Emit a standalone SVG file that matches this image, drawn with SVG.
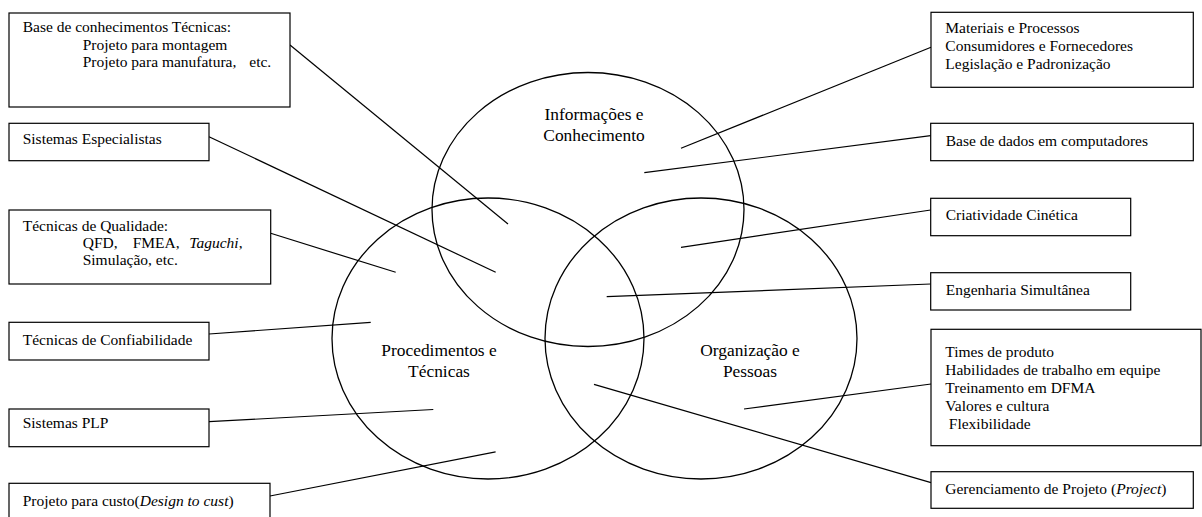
<svg xmlns="http://www.w3.org/2000/svg" width="1202" height="517" viewBox="0 0 1202 517" font-family="'Liberation Serif', 'DejaVu Serif', serif">
  <style>
    .box { fill: #ffffff; stroke: #000000; stroke-width: 1.2; }
    .circle { fill: none; stroke: #000000; stroke-width: 1.3; }
    .link { stroke: #000000; stroke-width: 1.2; fill: none; }
    .t { font-family: 'Liberation Serif', 'DejaVu Serif', serif; font-size: 15.5px; fill: #000000; }
    .lbl { font-family: 'Liberation Serif', 'DejaVu Serif', serif; font-size: 17.4px; text-anchor: middle; fill: #000000; }
    .i { font-style: italic; }
  </style>
  <rect width="1202" height="517" fill="#ffffff"/>

  <!-- three overlapping areas -->
  <g id="areas">
    <g id="info">
      <ellipse class="circle" cx="588" cy="209.5" rx="156" ry="137"/>
      <text class="lbl" x="594" y="120">Informações e</text>
      <text class="lbl" x="594" y="141">Conhecimento</text>
    </g>
    <g id="proc">
      <ellipse class="circle" cx="488" cy="338.5" rx="156" ry="140.5"/>
      <text class="lbl" x="439" y="356">Procedimentos e</text>
      <text class="lbl" x="439" y="377">Técnicas</text>
    </g>
    <g id="org">
      <ellipse class="circle" cx="701" cy="338.5" rx="156" ry="140.5"/>
      <text class="lbl" x="750" y="356">Organização e</text>
      <text class="lbl" x="750" y="377">Pessoas</text>
    </g>
  </g>

  <!-- connectors from the boxes into the areas -->
  <g id="connectors">
    <line class="link" x1="290" y1="45" x2="508" y2="224"/>
    <line class="link" x1="209" y1="136.7" x2="495.7" y2="272.3"/>
    <line class="link" x1="270.7" y1="233.3" x2="395.7" y2="272.3"/>
    <line class="link" x1="209" y1="334" x2="370.7" y2="322.3"/>
    <line class="link" x1="209" y1="421.7" x2="433.3" y2="409.5"/>
    <line class="link" x1="270" y1="496" x2="495.6" y2="451.9"/>
    <line class="link" x1="931" y1="47.3" x2="681" y2="148.3"/>
    <line class="link" x1="930.7" y1="135.7" x2="644.3" y2="172.7"/>
    <line class="link" x1="930.7" y1="210" x2="681" y2="247.3"/>
    <line class="link" x1="930.7" y1="284" x2="606.7" y2="296.7"/>
    <line class="link" x1="931" y1="384" x2="744" y2="409"/>
    <line class="link" x1="931" y1="482.7" x2="594" y2="384.3"/>
  </g>

  <!-- left boxes -->
  <g id="base-conhecimentos">
    <rect class="box" x="9" y="13" width="281" height="94"/>
    <text class="t" x="22.7" y="32">Base de conhecimentos Técnicas:</text>
    <text class="t" x="82.7" y="49.5">Projeto para montagem</text>
    <text class="t" x="82.7" y="67">Projeto para manufatura,<tspan x="249.3">etc.</tspan></text>
  </g>
  <g id="sistemas-especialistas">
    <rect class="box" x="9" y="123.3" width="200" height="37.4"/>
    <text class="t" x="22.7" y="144">Sistemas Especialistas</text>
  </g>
  <g id="tecnicas-qualidade">
    <rect class="box" x="9" y="210" width="261.7" height="74"/>
    <text class="t" x="22.7" y="231">Técnicas de Qualidade:</text>
    <text class="t" x="82.7" y="248">QFD,<tspan x="132.7">FMEA,</tspan><tspan x="189.3" class="i">Taguchi</tspan>,</text>
    <text class="t" x="82.7" y="265">Simulação, etc.</text>
  </g>
  <g id="tecnicas-confiabilidade">
    <rect class="box" x="9" y="322.3" width="200" height="37.7"/>
    <text class="t" x="22.7" y="345">Técnicas de Confiabilidade</text>
  </g>
  <g id="sistemas-plp">
    <rect class="box" x="9" y="409" width="200" height="37.7"/>
    <text class="t" x="22.7" y="427.5">Sistemas PLP</text>
  </g>
  <g id="projeto-custo">
    <rect class="box" x="9" y="483.3" width="261" height="50"/>
    <text class="t" x="22.7" y="505.5">Projeto para custo(<tspan class="i">Design to cust</tspan>)</text>
  </g>

  <!-- right boxes -->
  <g id="materiais">
    <rect class="box" x="931" y="12.3" width="262.3" height="75"/>
    <text class="t" x="945.3" y="33">Materiais e Processos</text>
    <text class="t" x="945.3" y="51">Consumidores e Fornecedores</text>
    <text class="t" x="945.3" y="69">Legislação e Padronização</text>
  </g>
  <g id="base-dados">
    <rect class="box" x="930.7" y="123.3" width="262.6" height="37.4"/>
    <text class="t" x="945.7" y="145.5">Base de dados em computadores</text>
  </g>
  <g id="criatividade">
    <rect class="box" x="930.7" y="198.3" width="200" height="37.4"/>
    <text class="t" x="945.7" y="220">Criatividade Cinética</text>
  </g>
  <g id="engenharia">
    <rect class="box" x="930.7" y="272.7" width="200" height="37.3"/>
    <text class="t" x="945.7" y="295">Engenharia Simultânea</text>
  </g>
  <g id="times">
    <rect class="box" x="931" y="329.3" width="270" height="116.4"/>
    <text class="t" x="945.3" y="356.5">Times de produto</text>
    <text class="t" x="945.3" y="374.5">Habilidades de trabalho em equipe</text>
    <text class="t" x="945.3" y="392.5">Treinamento em DFMA</text>
    <text class="t" x="945.3" y="410.5">Valores e cultura</text>
    <text class="t" x="948.8" y="428.5">Flexibilidade</text>
  </g>
  <g id="gerenciamento">
    <rect class="box" x="931" y="471.7" width="262.3" height="36.6"/>
    <text class="t" x="945.3" y="494">Gerenciamento de Projeto (<tspan class="i">Project</tspan>)</text>
  </g>
</svg>
